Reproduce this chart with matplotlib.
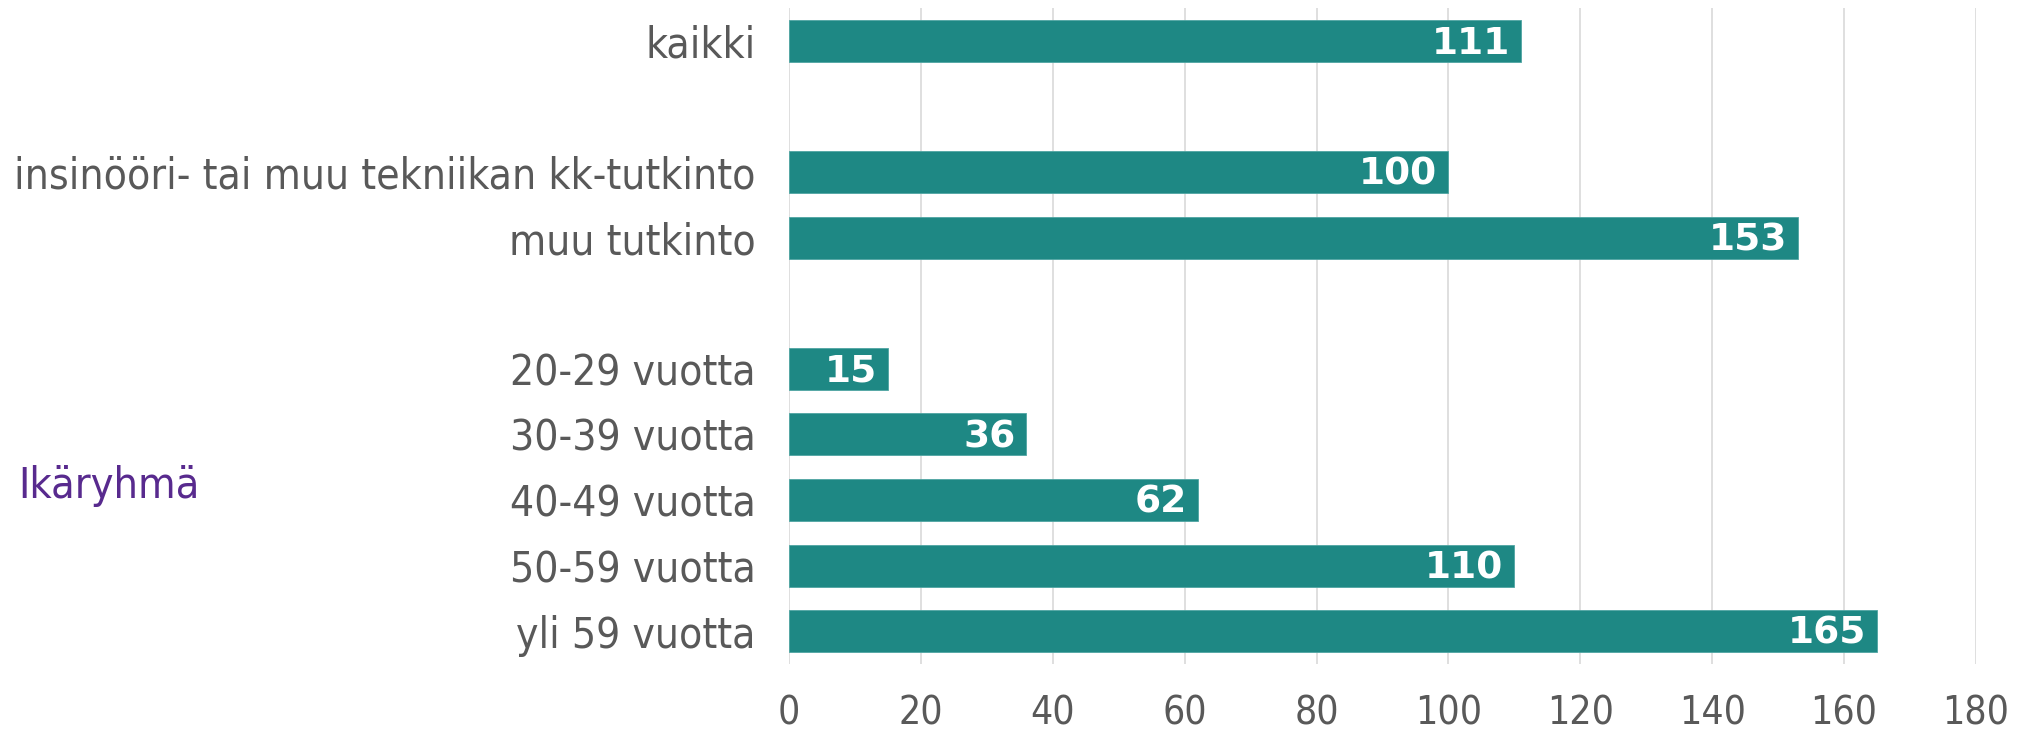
import matplotlib.pyplot as plt

# Values
overall_labels = ["kaikki"]
overall_values = [111]

degree_labels = ["insinööri- tai muu tekniikan kk-tutkinto", "muu tutkinto"]
degree_values = [100, 153]

age_labels = ["20-29 vuotta", "30-39 vuotta", "40-49 vuotta", "50-59 vuotta", "yli 59 vuotta"]
age_values = [15, 36, 62, 110, 165]

age_group_title = "Ikäryhmä"
x_ticks = [0, 20, 40, 60, 80, 100, 120, 140, 160, 180]

bar_color = "#1E8884"
text_color = "#595959"
grid_color = "#D9D9D9"
title_color = "#582A8E"

# Build the rows, one empty slot between groups
groups = [(overall_labels, overall_values), (degree_labels, degree_values), (age_labels, age_values)]
labels, values, ypos = [], [], []
slot = 0
for g_labels, g_values in groups:
    for lab, val in zip(g_labels, g_values):
        labels.append(lab)
        values.append(val)
        ypos.append(slot)
        slot += 1
    slot += 1
last_slot = ypos[-1]

# axis / category text looks narrow, so use the condensed DejaVu
plt.rcParams["font.stretch"] = "condensed"

fig = plt.figure(figsize=(20.28, 7.34), dpi=100)
ax = fig.add_axes([789 / 2028, 1 - 664 / 734, (1976 - 789) / 2028, (664 - 8) / 734])

bars = ax.barh(ypos, values, height=0.64, color=bar_color, edgecolor="#4FA5A2", linewidth=0.6, zorder=3)

# value labels inside the bar ends (these are wide bold digits)
for b, v in zip(bars, values):
    ax.annotate(str(v), xy=(b.get_width(), b.get_y() + b.get_height() / 2),
                xytext=(-8, -2), textcoords="offset points",
                ha="right", va="center", color="white", fontsize=27,
                fontweight="bold", fontstretch="normal", zorder=4)

ax.set_xlim(0, 180)
ax.set_ylim(last_slot + 0.5, -0.5)
ax.set_xticks(x_ticks)
ax.set_yticks(ypos)
ax.set_yticklabels(labels)

ax.tick_params(axis="x", length=0, pad=22, labelsize=28, labelcolor=text_color)
ax.tick_params(axis="y", length=0, pad=24, labelsize=30.5, labelcolor=text_color)

ax.grid(axis="x", color=grid_color, linewidth=1.2, zorder=0)
for s in ax.spines.values():
    s.set_visible(False)

fig.text(18 / 2028, 1 - 486 / 734, age_group_title, ha="left", va="center",
         fontsize=31, color=title_color)

fig.savefig("out.png", dpi=100)
